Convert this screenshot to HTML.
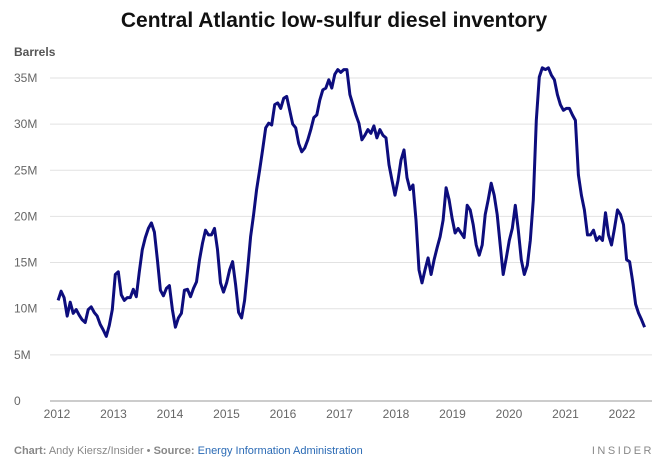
<!DOCTYPE html>
<html><head><meta charset="utf-8"><style>
body{margin:0;background:#fff;font-family:"Liberation Sans",sans-serif;}
svg{display:block}
</style></head><body>
<svg width="668" height="465">
<text x="334" y="27" text-anchor="middle" font-size="21" font-weight="bold" fill="#111">Central Atlantic low-sulfur diesel inventory</text>
<text x="14" y="56" font-size="12" font-weight="bold" fill="#555">Barrels</text>
<g id="grid"></g><g id="ylab"></g><g id="xlab"></g>
<path id="line" fill="none" stroke="#0d0d7d" stroke-width="3" stroke-linejoin="round"/>
<text x="14" y="454" font-size="11" fill="#888"><tspan font-weight="bold">Chart:</tspan> Andy Kiersz/Insider • <tspan font-weight="bold">Source:</tspan> <tspan fill="#2a6ab5">Energy Information Administration</tspan></text>
<text x="654" y="454" text-anchor="end" font-size="11" letter-spacing="2.5" fill="#888">INSIDER</text>
</svg>
<script>
const yTicks=[0,5,10,15,20,25,30,35];
const xTicks=[2012,2013,2014,2015,2016,2017,2018,2019,2020,2021,2022];
const startYear=2012.02, endYear=2022.4;
const values=[10.9,11.9,11.2,9.2,10.7,9.5,9.9,9.3,8.8,8.5,9.9,10.2,9.6,9.2,8.3,7.7,7.0,8.2,9.9,13.7,14.0,11.5,10.9,11.2,11.2,12.1,11.3,14.0,16.4,17.7,18.7,19.3,18.3,15.3,12.0,11.4,12.2,12.5,9.9,8.0,9.0,9.5,12.0,12.1,11.3,12.2,12.9,15.3,17.1,18.5,18.0,18.0,18.7,16.4,12.8,11.8,12.8,14.2,15.1,12.6,9.6,9.0,10.9,14.2,17.8,20.2,22.9,25.0,27.2,29.6,30.1,29.9,32.1,32.3,31.7,32.8,33.0,31.5,30.0,29.6,27.9,27.0,27.4,28.3,29.4,30.7,31.0,32.6,33.7,33.9,34.8,33.9,35.4,35.9,35.6,35.9,35.9,33.2,32.1,31.0,30.1,28.3,28.8,29.4,29.0,29.8,28.5,29.4,28.8,28.5,25.6,23.9,22.3,23.9,26.1,27.2,24.2,22.9,23.4,19.6,14.2,12.8,14.2,15.5,13.7,15.3,16.6,17.8,19.6,23.1,21.8,19.8,18.2,18.7,18.2,17.7,21.2,20.7,19.1,16.9,15.8,16.9,20.2,21.8,23.6,22.3,20.2,16.9,13.7,15.5,17.4,18.7,21.2,18.5,15.3,13.7,14.7,17.4,21.8,30.4,35.1,36.1,35.9,36.1,35.3,34.8,33.2,32.1,31.5,31.7,31.7,31.0,30.4,24.5,22.3,20.7,18.0,18.0,18.5,17.4,17.8,17.4,20.4,18.0,16.9,18.7,20.7,20.2,19.1,15.3,15.1,13.0,10.5,9.5,8.8,8.0];
const NS="http://www.w3.org/2000/svg";
const xS=t=>57+(t-2012)*56.5, yS=v=>401-v*9.23;
function mk(tag,attrs,parent,txt){const e=document.createElementNS(NS,tag);for(const k in attrs)e.setAttribute(k,attrs[k]);if(txt!==undefined)e.textContent=txt;document.getElementById(parent).appendChild(e);return e;}
yTicks.forEach(v=>{
 const g=mk('line',{x1:50,x2:652,y1:yS(v),y2:yS(v),stroke:v===0?'#999':'#e2e2e2','stroke-width':1},'grid');
 
 
 const t=mk('text',{x:14,y:yS(v)+4,'font-size':12,fill:'#666'},'ylab',v===0?'0':v+'M');
 
 
});
xTicks.forEach(y=>{
 const t=mk('text',{x:xS(y),y:418,'font-size':12,fill:'#666','text-anchor':'middle'},'xlab',String(y));
 
 
});
const n=values.length;
document.getElementById('line').setAttribute('d',values.map((v,i)=>(i?'L':'M')+xS(startYear+i*(endYear-startYear)/(n-1)).toFixed(1)+','+yS(v).toFixed(1)).join(''));
</script>
</body></html>
